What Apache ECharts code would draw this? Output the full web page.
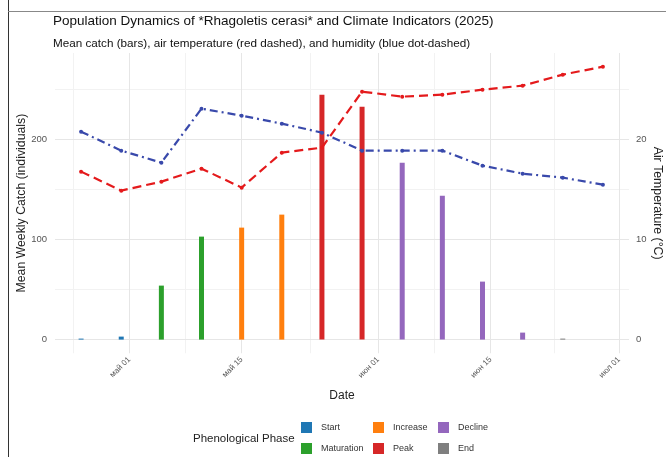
<!DOCTYPE html>
<html>
<head>
<meta charset="utf-8">
<script src="https://cdn.jsdelivr.net/npm/echarts@6/dist/echarts.min.js"></script>
<style>
html,body{margin:0;padding:0;background:#fff;}
#c{width:666px;height:457px;}
</style>
</head>
<body>
<div id="c"></div>
<script>
// ---- data ----
const dates = ['2025-04-25','2025-04-30','2025-05-05','2025-05-10','2025-05-15','2025-05-20','2025-05-25',
               '2025-05-30','2025-06-04','2025-06-09','2025-06-14','2025-06-19','2025-06-24','2025-06-29'];
const catchValues = [1, 3, 54, 103, 112, 125, 245, 233, 177, 144, 58, 7, 1, null];
const phases = ['Start','Start','Maturation','Maturation','Increase','Increase','Peak',
                'Peak','Decline','Decline','Decline','Decline','End','End'];
const temperature = [16.8, 14.9, 15.8, 17.1, 15.2, 18.7, 19.2, 24.8, 24.3, 24.5, 25.0, 25.4, 26.5, 27.3];
// humidity drawn on the catch (left) scale
const humidityScaled = [208, 189, 177, 231, 224, 216, 207, 189, 189, 189, 174, 166, 162, 155];
const phaseNames = ['Start','Maturation','Increase','Peak','Decline','End'];
const phaseColors = ['#1f77b4','#2ca02c','#ff7f0e','#d62728','#9467bd','#7f7f7f'];
const xTickDates = ['2025-05-01','2025-05-15','2025-06-01','2025-06-15','2025-07-01'];
const xTickLabels = ['май 01','май 15','июн 01','июн 15','июл 01'];
const xMinorDates = ['2025-04-24','2025-05-08','2025-05-23 12:00','2025-06-08','2025-06-23'];
const yTicks = [0, 100, 200];
const yMinor = [50, 150, 250];
const tTicks = [0, 10, 20];

// ---- helpers ----
function ts(s){
  const p = s.split(' ');
  const d = p[0].split('-').map(Number);
  let h = 0;
  if (p[1]) h = Number(p[1].split(':')[0]);
  return Date.UTC(d[0], d[1]-1, d[2], h);
}
const DAY = 86400000;
const xs = dates.map(ts);
const xMin = xs[0] - 3.25*DAY;
const xMax = xs[xs.length-1] + 3.25*DAY;
const tickTs = xTickDates.map(ts);
const yMax = 273 * 1.05;
const yMin = -273 * 0.05;

const font = '"Liberation Sans", Arial, sans-serif';
const gridMajor = '#e6e6e6';
const gridMinor = '#f2f2f2';

const barSeries = phaseNames.map((ph, pi) => ({
  name: ph,
  type: 'bar',
  yAxisIndex: 0,
  barWidth: 5,
  barGap: '-100%',
  z: 2,
  itemStyle: {color: phaseColors[pi]},
  data: xs.map((x, i) => [x, phases[i] === ph ? catchValues[i] : null])
}));

const gridSeries = {
  name: '_grid',
  type: 'line',
  yAxisIndex: 0,
  data: [],
  silent: true,
  z: 0,
  markLine: {
    silent: true,
    symbol: 'none',
    z: 0,
    animation: false,
    label: {show: false},
    data: [
      ...xMinorDates.map(d => ({xAxis: ts(d), lineStyle: {color: gridMinor, width: 1, type: 'solid'}})),
      ...yMinor.map(v => ({yAxis: v, lineStyle: {color: gridMinor, width: 1, type: 'solid'}})),
      ...tickTs.map(t => ({xAxis: t, lineStyle: {color: gridMajor, width: 1, type: 'solid'}})),
      ...yTicks.map(v => ({yAxis: v, lineStyle: {color: gridMajor, width: 1, type: 'solid'}}))
    ]
  }
};

const chart = echarts.init(document.getElementById('c'), null, {renderer: 'canvas'});
chart.setOption({
  animation: false,
  backgroundColor: '#fff',
  textStyle: {fontFamily: font},
  title: [
    {text: 'Population Dynamics of *Rhagoletis cerasi* and Climate Indicators (2025)',
     left: 53, top: 14, padding: 0, textStyle: {fontSize: 13.5, fontWeight: 'normal', color: '#111', fontFamily: font}},
    {text: 'Mean catch (bars), air temperature (red dashed), and humidity (blue dot-dashed)',
     left: 53, top: 38, padding: 0, textStyle: {fontSize: 11.7, fontWeight: 'normal', color: '#111', fontFamily: font}}
  ],
  grid: {left: 55, right: 37, top: 53, bottom: 103.75, containLabel: false, outerBoundsMode: 'none'},
  xAxis: {
    type: 'value',
    min: xMin, max: xMax,
    axisLine: {show: false},
    axisTick: {show: false},
    splitLine: {show: false},
    axisLabel: {
      customValues: tickTs,
      rotate: 45,
      fontSize: 8,
      color: '#555',
      margin: 5,
      formatter: v => { const i = tickTs.indexOf(v); return i >= 0 ? xTickLabels[i] : ''; }
    },
    name: 'Date',
    nameLocation: 'middle',
    nameGap: 36,
    nameMoveOverlap: false,
    nameTextStyle: {fontSize: 12, color: '#222'}
  },
  yAxis: [
    {
      type: 'value', min: yMin, max: yMax,
      axisLine: {show: false}, axisTick: {show: false}, splitLine: {show: false},
      axisLabel: {customValues: yTicks, fontSize: 9.5, color: '#555', margin: 8},
      name: 'Mean Weekly Catch (individuals)', nameLocation: 'middle', nameGap: 27,
      nameMoveOverlap: false,
      nameTextStyle: {fontSize: 12.3, color: '#222'}
    },
    {
      type: 'value', min: yMin/10, max: yMax/10,
      axisLine: {show: false}, axisTick: {show: false}, splitLine: {show: false},
      axisLabel: {customValues: tTicks, fontSize: 9.5, color: '#555', margin: 7},
      name: 'Air Temperature (°C)', nameLocation: 'middle', nameGap: 22, nameRotate: -90,
      nameMoveOverlap: false,
      nameTextStyle: {fontSize: 12.3, color: '#222'}
    }
  ],
  legend: [
    {data: ['Start','Maturation'], left: 301, top: 422},
    {data: ['Increase','Peak'], left: 373, top: 422},
    {data: ['Decline','End'], left: 438, top: 422}
  ].map(l => Object.assign({
    orient: 'vertical', icon: 'rect', itemWidth: 11, itemHeight: 11, itemGap: 10,
    selectedMode: false, padding: 0,
    textStyle: {fontSize: 9, color: '#333', padding: [0,0,0,4], fontFamily: font}
  }, l)),
  graphic: [
    {type: 'text', left: 193, top: 433, style: {text: 'Phenological Phase', font: '11.5px ' + font, fill: '#222'}},
    {type: 'line', shape: {x1: 8.5, y1: 0, x2: 8.5, y2: 457}, style: {stroke: '#333', lineWidth: 1}},
    {type: 'line', shape: {x1: 8, y1: 11.5, x2: 666, y2: 11.5}, style: {stroke: '#888', lineWidth: 1}}
  ],
  series: [
    gridSeries,
    ...barSeries,
    {
      name: 'Air temperature', type: 'line', yAxisIndex: 1, z: 4,
      data: xs.map((x, i) => [x, temperature[i]]),
      symbol: 'circle', symbolSize: 4,
      itemStyle: {color: '#e41a1c'},
      lineStyle: {color: '#e41a1c', width: 2.2, type: [9, 5]}
    },
    {
      name: 'Humidity', type: 'line', yAxisIndex: 0, z: 4,
      data: xs.map((x, i) => [x, humidityScaled[i]]),
      symbol: 'circle', symbolSize: 4,
      itemStyle: {color: '#3949ab'},
      lineStyle: {color: '#3949ab', width: 2.2, type: [8, 4, 2, 4]}
    }
  ]
});
</script>
</body>
</html>
